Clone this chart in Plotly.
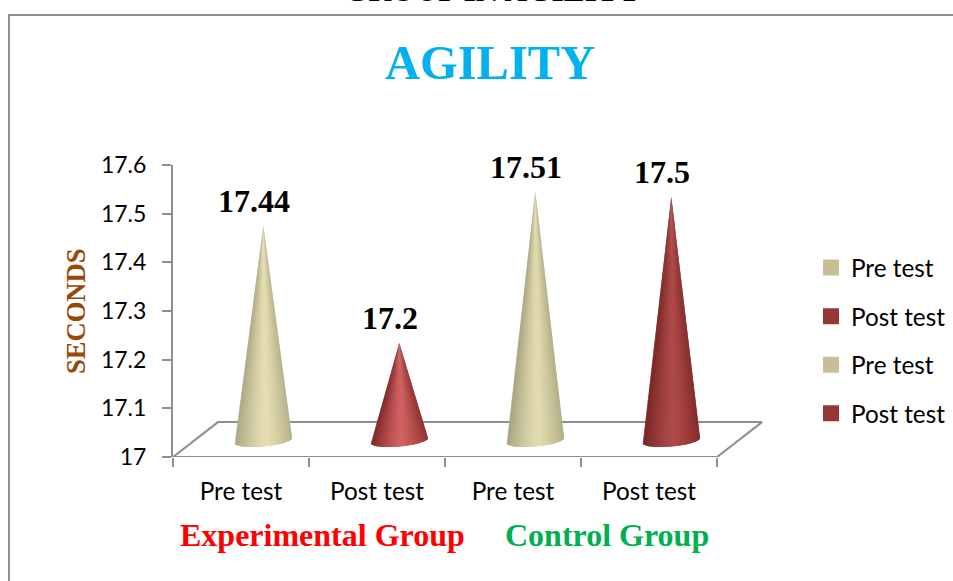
import plotly.graph_objects as go
import numpy as np

# ---- data ----
categories = ["Pre test", "Post test", "Pre test", "Post test"]
values = [17.44, 17.2, 17.51, 17.5]
value_labels = ["17.44", "17.2", "17.51", "17.5"]
y_ticks = [17, 17.1, 17.2, 17.3, 17.4, 17.5, 17.6]
y_tick_labels = ["17", "17.1", "17.2", "17.3", "17.4", "17.5", "17.6"]
title_text = "AGILITY"
top_text = "GROUP IN AGILITY"
y_title = "SECONDS"
groups = ["Experimental Group", "Control Group"]

# ---- geometry and style ----
W, H = 1040, 581
L, R, T, B = 173, 763, 164.5, 457.3
UX = 136.0
X_MAX = (R - L) / UX
Y_MIN, Y_MAX = 17, 17.6
UY = (B - T) / (Y_MAX - Y_MIN)
GREY = "#8f8f8f"
SERIF = "Liberation Serif"
SANS = "Lato"
LEGEND_COL = ["#C8BD96", "#953735", "#C8BD96", "#953735"]
CONE_EDGE = [(170, 166, 130), (125, 38, 38), (165, 162, 126), (120, 36, 36)]
CONE_MID = [(229, 222, 178), (208, 98, 95), (226, 219, 175), (174, 74, 73)]


def px(x):
    return (x - L) / (W - L)


def py(y):
    return (B - y) / (B - T)


depth_x, depth_y = 45 / UX, 35 / UY
base_dx, base_dy = 22.3 / UX, 16.8 / UY
a, b, tilt = 29 / UX, 6.3 / UY, 2.5 / UY

fig = go.Figure()

# floor of the 3D box
fig.add_trace(go.Scatter(
    x=[0, depth_x, 4 + depth_x, 4, 0],
    y=[Y_MIN, Y_MIN + depth_y, Y_MIN + depth_y, Y_MIN, Y_MIN],
    mode="lines", line=dict(color=GREY, width=2),
    showlegend=False, hoverinfo="skip", cliponaxis=False))

# cones, one fan of shaded strips each; every strip overlaps the next to hide seams
N = 36
for i, v in enumerate(values):
    cx = i + 0.5 + base_dx
    cy = Y_MIN + base_dy
    th = np.linspace(np.pi, 0, N + 1)
    xs = cx + a * np.cos(th)
    ys = cy - b * np.sin(th) + tilt * np.cos(th)
    tip_y = v + base_dy
    for k in range(N):
        e = min(k + 2, N)
        t = (np.cos(th[k]) + np.cos(th[k + 1])) / 4 + 0.5
        w = 1 - min(abs(t - 0.54) / 0.54, 1) ** 1.35
        c = [round(CONE_EDGE[i][j] + (CONE_MID[i][j] - CONE_EDGE[i][j]) * w) for j in range(3)]
        col = f"rgb({c[0]},{c[1]},{c[2]})"
        arc = list(range(k, e + 1))
        fig.add_trace(go.Scatter(
            x=[cx] + [xs[m] for m in arc] + [cx],
            y=[tip_y] + [ys[m] for m in arc] + [tip_y],
            mode="lines", fill="toself", fillcolor=col,
            line=dict(color=col, width=0),
            showlegend=False, hoverinfo="skip"))

# legend entries
for i, name in enumerate(categories):
    fig.add_trace(go.Scatter(
        x=[None], y=[None], mode="markers", name=name, legendgroup=f"g{i}",
        marker=dict(symbol="square", size=16, color=LEGEND_COL[i])))

# carrier of the category labels
fig.add_trace(go.Scatter(
    x=[i + 0.5 for i in range(len(categories))], y=[None] * len(categories),
    xaxis="x2", mode="markers", showlegend=False, hoverinfo="skip"))

ann = []
for i, v in enumerate(values):
    ann.append(dict(
        x=i + 0.5 + base_dx - 9 / UX, y=v + base_dy, xref="x", yref="y",
        text=f"<b>{value_labels[i]}</b>", showarrow=False,
        xanchor="center", yanchor="middle", yshift=25,
        font=dict(family=SERIF, size=32, color="#000000")))


def note(x, y, text, size, color, angle=0):
    return dict(x=px(x), y=py(y), xref="paper", yref="paper", text=f"<b>{text}</b>",
                textangle=angle, showarrow=False, xanchor="center", yanchor="middle",
                font=dict(family=SERIF, size=size, color=color))


ann += [
    note(490, 62, title_text, 48.5, "#00B0F0"),
    note(492, -10, top_text, 31.4, "#000000"),
    note(76, 311, y_title, 26.6, "#984806", -90),
    note(322.5, 536, groups[0], 32, "#FF0000"),
    note(607, 536, groups[1], 32, "#00B050"),
]

frame = dict(type="path", xref="paper", yref="paper",
             path=f"M {px(9)} {py(H + 20)} L {px(9)} {py(14)} L {px(W + 20)} {py(14)}",
             line=dict(color=GREY, width=2))

dom = [0, (R - L) / (W - L)]
fig.update_layout(
    width=W, height=H, autosize=False,
    margin=dict(l=L, r=0, t=T, b=H - B, pad=0),
    paper_bgcolor="white", plot_bgcolor="white",
    font=dict(family=SANS, size=24, color="#000000"),
    annotations=ann, shapes=[frame],
    xaxis=dict(domain=dom, range=[0, X_MAX], tickvals=list(range(5)), showticklabels=False,
               ticks="outside", ticklen=9, tickwidth=1.5, tickcolor=GREY,
               showgrid=False, zeroline=False, showline=False, fixedrange=True),
    xaxis2=dict(domain=dom, range=[0, X_MAX], overlaying="x", side="bottom", anchor="y",
                tickvals=[i + 0.5 for i in range(len(categories))], ticktext=categories,
                ticks="", ticklabelstandoff=18, showgrid=False, zeroline=False, showline=False,
                tickfont=dict(family=SANS, size=24.3, color="#000000"), fixedrange=True),
    yaxis=dict(range=[Y_MIN, Y_MAX], tickvals=y_ticks, ticktext=y_tick_labels,
               ticks="outside", ticklen=9, tickwidth=1.5, tickcolor=GREY,
               showline=True, linecolor=GREY, linewidth=2, showgrid=False, zeroline=False,
               ticklabelstandoff=11, tickfont=dict(family=SANS, size=23, color="#000000"),
               fixedrange=True),
    legend=dict(x=px(811), y=py(245), xanchor="left", yanchor="top",
                tracegroupgap=14, itemwidth=30, bgcolor="rgba(0,0,0,0)",
                font=dict(family=SANS, size=24.3, color="#000000")),
)

fig.write_html("out.html", config={"displayModeBar": False},
               post_script="document.body.style.margin='0';document.body.style.overflow='hidden';")
